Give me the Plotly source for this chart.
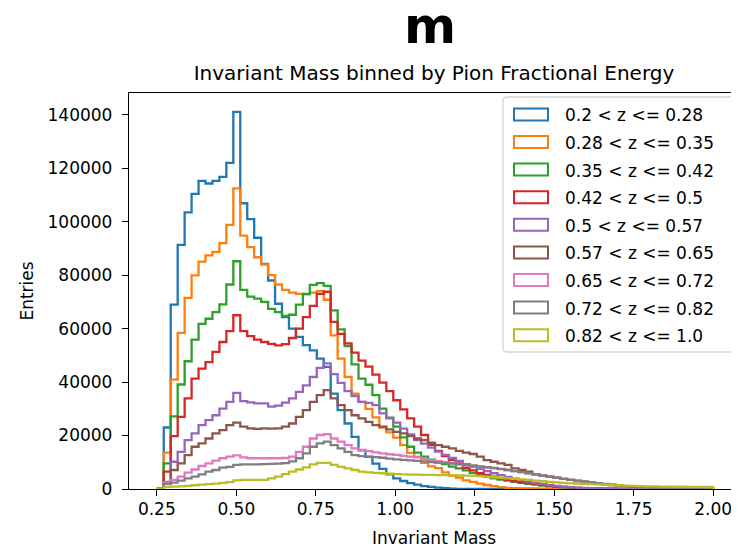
import numpy as np
import plotly.graph_objects as go

# ---------------- data ----------------
bin_lo, bin_hi, n_bins = 0.25, 2.0, 80

series_labels = [
    "0.2 &lt; z &lt;= 0.28", "0.28 &lt; z &lt;= 0.35", "0.35 &lt; z &lt;= 0.42",
    "0.42 &lt; z &lt;= 0.5", "0.5 &lt; z &lt;= 0.57", "0.57 &lt; z &lt;= 0.65",
    "0.65 &lt; z &lt;= 0.72", "0.72 &lt; z &lt;= 0.82", "0.82 &lt; z &lt;= 1.0",
]
series_colors = ["#1f77b4", "#ff7f0e", "#2ca02c", "#d62728", "#9467bd",
                 "#8c564b", "#e377c2", "#7f7f7f", "#bcbd22"]

counts_z020_028 = [
    0, 23000, 69000, 91300, 103500, 110400, 115300, 114300, 115300, 116800,
    122000, 141100, 106900, 101000, 94000, 84200, 78000, 69300, 64300, 60000,
    56900, 53800, 51900, 48800, 45700, 35700, 29500, 24500, 19500, 14500,
    12000, 9500, 7500, 5500, 4000, 3000, 2200, 1600, 1100, 800,
    500, 300, 150, 80, 40, 20, 10, 5, 0, 0,
    0, 0, 0, 0, 0, 0, 0, 0, 0, 0,
    0, 0, 0, 0, 0, 0, 0, 0, 0, 0,
    0, 0, 0, 0, 0, 0, 0, 0, 0, 0,
]
counts_z028_035 = [
    0, 13600, 40900, 58400, 71500, 79900, 85100, 87400, 88700, 92000,
    98800, 112500, 94800, 90500, 86700, 84000, 80000, 76500, 74500, 73500,
    73000, 72800, 73500, 74000, 70800, 57500, 48800, 41900, 35700, 32600,
    30000, 26800, 23000, 21200, 19200, 16400, 13500, 12000, 9800, 8500,
    7800, 6200, 5000, 4300, 3200, 2700, 2000, 1500, 1100, 700,
    450, 300, 250, 200, 120, 80, 50, 30, 20, 15,
    10, 5, 0, 0, 0, 0, 0, 0, 0, 0,
    0, 0, 0, 0, 0, 0, 0, 0, 0, 0,
]
counts_z035_042 = [
    0, 9600, 27200, 39100, 47800, 55900, 61800, 63700, 66200, 69100,
    76500, 85200, 74500, 72000, 71200, 70000, 67400, 66200, 64800, 65200,
    69000, 73000, 76400, 77000, 76000, 66800, 59700, 53500, 46600, 41300,
    39000, 35100, 30100, 26700, 23300, 19300, 15800, 13600, 12100, 11000,
    10000, 9300, 8400, 7700, 7000, 6000, 5200, 4600, 4000, 3500,
    3100, 2700, 2300, 1900, 1600, 1300, 1000, 800, 600, 450,
    330, 250, 180, 120, 80, 50, 30, 25, 20, 15,
    10, 10, 5, 5, 0, 0, 0, 0, 0, 0,
]
counts_z042_050 = [
    0, 6500, 19800, 27000, 33900, 41300, 45000, 47500, 51300, 55000,
    59100, 65000, 59100, 57200, 55900, 55000, 54300, 53700, 54200, 56500,
    60000, 64300, 68500, 73000, 73800, 62500, 58000, 54500, 51000, 48000,
    45800, 42800, 39800, 36600, 33200, 29800, 26400, 23300, 20200, 16500,
    14300, 12300, 10800, 9600, 7900, 7000, 5900, 5300, 4600, 4000,
    3400, 3000, 2600, 2200, 1900, 1600, 1300, 1000, 800, 600,
    450, 350, 250, 180, 120, 90, 60, 40, 20, 20,
    15, 10, 10, 5, 5, 0, 0, 0, 0, 0,
]
counts_z050_057 = [
    0, 2700, 10200, 13900, 18300, 20800, 23900, 25800, 27600, 30100,
    32600, 36000, 32900, 32400, 32000, 32000, 30800, 31200, 32300, 33900,
    36300, 38800, 41900, 45300, 47000, 43000, 39700, 36600, 34800, 32600,
    32200, 31400, 28300, 26400, 24800, 22600, 20400, 18300, 17000, 15500,
    14000, 12800, 11600, 10500, 9300, 8300, 7500, 6700, 5900, 5200,
    4500, 3900, 3300, 2800, 2300, 1900, 1500, 1200, 900, 700,
    500, 400, 300, 220, 160, 120, 90, 60, 40, 30,
    25, 20, 15, 10, 10, 5, 5, 0, 0, 0,
]
counts_z057_065 = [
    0, 2000, 7100, 9600, 12700, 15800, 17100, 18900, 20800, 22000,
    23900, 24800, 23300, 22700, 22500, 22700, 22600, 22700, 23300, 24500,
    27000, 29500, 32600, 35100, 37000, 33900, 31400, 29500, 27600, 26400,
    25100, 23900, 23300, 22300, 21400, 20800, 19800, 18900, 18300, 17300,
    16400, 15800, 15200, 14300, 13600, 13100, 12100, 10800, 10200, 9600,
    9000, 7700, 7100, 6500, 5600, 5100, 4600, 4200, 3800, 3400,
    3000, 2700, 2400, 2100, 1800, 1500, 1200, 1000, 800, 600,
    450, 350, 250, 200, 150, 100, 80, 60, 40, 30,
]
counts_z065_072 = [
    0, 2400, 3400, 4600, 6100, 7300, 8600, 9600, 10600, 11500,
    12100, 12600, 11800, 11500, 11500, 11500, 11500, 11500, 11600, 12100,
    13900, 15800, 18900, 20200, 20500, 18900, 17700, 16400, 15200, 14600,
    14200, 13700, 13300, 13000, 12800, 12400, 12100, 11800, 11200, 10800,
    10400, 10000, 9700, 9200, 8800, 8600, 8300, 8000, 7700, 7400,
    7100, 6700, 6300, 5900, 5400, 5000, 4600, 4200, 3800, 3400,
    3000, 2700, 2400, 2100, 1800, 1500, 1200, 950, 750, 550,
    400, 300, 220, 160, 120, 90, 60, 40, 30, 20,
]
counts_z072_082 = [
    0, 1900, 2400, 3100, 4000, 4600, 5500, 6500, 7100, 8000,
    8300, 9000, 9200, 9200, 9200, 9300, 9400, 9500, 9700, 10300,
    11500, 13300, 15800, 17100, 17700, 16400, 15200, 13900, 12700, 12300,
    12100, 11900, 11700, 11400, 11100, 10900, 10700, 10500, 10300, 10100,
    9900, 9700, 9500, 9300, 9000, 8800, 8500, 8200, 7900, 7500,
    7100, 6700, 6300, 5900, 5500, 5000, 4600, 4200, 3800, 3400,
    3100, 2800, 2500, 2200, 1900, 1600, 1300, 1050, 850, 650,
    500, 380, 280, 200, 150, 110, 80, 60, 40, 30,
]
counts_z082_100 = [
    0, 800, 900, 1000, 1200, 1400, 1600, 1800, 2000, 2300,
    2600, 3200, 3400, 3400, 3400, 3400, 4000, 4600, 5600, 6500,
    7300, 8100, 9200, 9800, 9800, 9000, 8300, 7700, 7100, 6500,
    6200, 6000, 5900, 5700, 5600, 5500, 5400, 5400, 5300, 5300,
    5200, 5200, 5100, 5100, 5000, 5000, 4800, 4600, 4400, 4200,
    4000, 3800, 3600, 3400, 3100, 2900, 2700, 2500, 2300, 2100,
    2000, 1900, 1800, 1700, 1600, 1500, 1400, 1300, 1200, 1100,
    1000, 950, 900, 900, 850, 850, 800, 800, 800, 750,
]
all_counts = [counts_z020_028, counts_z028_035, counts_z035_042,
              counts_z042_050, counts_z050_057, counts_z057_065,
              counts_z065_072, counts_z072_082, counts_z082_100]

x_tick_vals = [0.25, 0.50, 0.75, 1.00, 1.25, 1.50, 1.75, 2.00]
x_tick_text = ["0.25", "0.50", "0.75", "1.00", "1.25", "1.50", "1.75", "2.00"]
y_tick_vals = [0, 20000, 40000, 60000, 80000, 100000, 120000, 140000]
y_tick_text = ["0", "20000", "40000", "60000", "80000", "100000", "120000", "140000"]

# ---------------- figure ----------------
FONT = "DejaVu Sans"
OFF = 8                      # page body margin of the browser
W, H = 739 - OFF, 550 - OFF
# plot area, in page pixels
PX0, PX1, PY0, PY1 = 129, 739, 93, 489
L, R, T, B = PX0 - OFF, (W + OFF) - PX1, PY0 - OFF, (H + OFF) - PY1


def px(xp):
    return (xp - PX0) / (PX1 - PX0)


def py(yp):
    return (PY1 - yp) / (PY1 - PY0)


edges = np.linspace(bin_lo, bin_hi, n_bins + 1)

fig = go.Figure()
for label, color, counts in zip(series_labels, series_colors, all_counts):
    c = np.asarray(counts, dtype=float)
    xs = np.concatenate([[edges[0]], edges[:-1], [edges[-1], edges[-1]]])
    ys = np.concatenate([[0.0], c, [c[-1], 0.0]])
    fig.add_trace(go.Scatter(
        x=xs, y=ys, mode="lines", line=dict(color=color, width=2.3, shape="hv"),
        name=label.replace("&lt;", "<"), showlegend=False, hoverinfo="skip",
    ))

ymax = max(max(c) for c in all_counts) * 1.05

fig.update_layout(
    width=W, height=H,
    margin=dict(l=L, r=R, t=T, b=B, autoexpand=False),
    paper_bgcolor="white", plot_bgcolor="white",
    font=dict(family=FONT, size=17, color="black"),
    title=dict(text="Invariant Mass binned by Pion Fractional Energy",
               font=dict(family=FONT, size=20, color="black"),
               x=0.5, xref="paper", xanchor="center",
               y=1 - (73 - OFF) / H, yref="container", yanchor="middle"),
    xaxis=dict(range=[0.1625, 2.0812], tickvals=x_tick_vals, ticktext=x_tick_text,
               ticks="outside", ticklen=6, tickwidth=1.3, tickcolor="black",
               showline=True, linecolor="black", linewidth=1.3, mirror=True,
               showgrid=False, zeroline=False, ticklabelstandoff=-2,
               tickfont=dict(family=FONT, size=17, color="black"),
               title=dict(text="Invariant Mass", standoff=14,
                          font=dict(family=FONT, size=17, color="black")),
               automargin=False),
    yaxis=dict(range=[0, ymax], tickvals=y_tick_vals, ticktext=y_tick_text,
               ticks="outside", ticklen=6, tickwidth=1.3, tickcolor="black",
               showline=True, linecolor="black", linewidth=1.3, mirror=False,
               showgrid=False, zeroline=False, ticklabelstandoff=6,
               tickfont=dict(family=FONT, size=17, color="black"),
               title=dict(text="Entries", standoff=9,
                          font=dict(family=FONT, size=17, color="black")),
               automargin=False),
)

# super title
fig.add_annotation(text="<b>m</b>", x=px(430), y=py(26), xref="paper", yref="paper",
                   xanchor="center", yanchor="middle", showarrow=False,
                   font=dict(family=FONT, size=50, color="black"))

# legend box (matplotlib-style)
lx0, lx1, ly0, ly1, r = 503, 735, 97, 352, 4
path = (f"M {px(lx0 + r)},{py(ly0)} L {px(lx1 - r)},{py(ly0)} "
        f"Q {px(lx1)},{py(ly0)} {px(lx1)},{py(ly0 + r)} "
        f"L {px(lx1)},{py(ly1 - r)} Q {px(lx1)},{py(ly1)} {px(lx1 - r)},{py(ly1)} "
        f"L {px(lx0 + r)},{py(ly1)} Q {px(lx0)},{py(ly1)} {px(lx0)},{py(ly1 - r)} "
        f"L {px(lx0)},{py(ly0 + r)} Q {px(lx0)},{py(ly0)} {px(lx0 + r)},{py(ly0)} Z")
fig.add_shape(type="path", path=path, xref="paper", yref="paper",
              line=dict(color="#d5d5d5", width=1.3), fillcolor="rgba(255,255,255,0.8)",
              layer="above")

n = len(series_labels)
for k, (label, color) in enumerate(zip(series_labels, series_colors)):
    cy = 335.2 - (n - 1 - k) * 27.6
    fig.add_shape(type="rect", xref="paper", yref="paper",
                  x0=px(514), x1=px(548), y0=py(cy + 6), y1=py(cy - 6),
                  line=dict(color=color, width=2.0), fillcolor="rgba(0,0,0,0)",
                  layer="above")
    fig.add_annotation(text=label, x=px(563), y=py(cy + 1), xref="paper", yref="paper",
                       xanchor="left", yanchor="middle", showarrow=False,
                       font=dict(family=FONT, size=17, color="black"))

fig.write_html("out.html")
